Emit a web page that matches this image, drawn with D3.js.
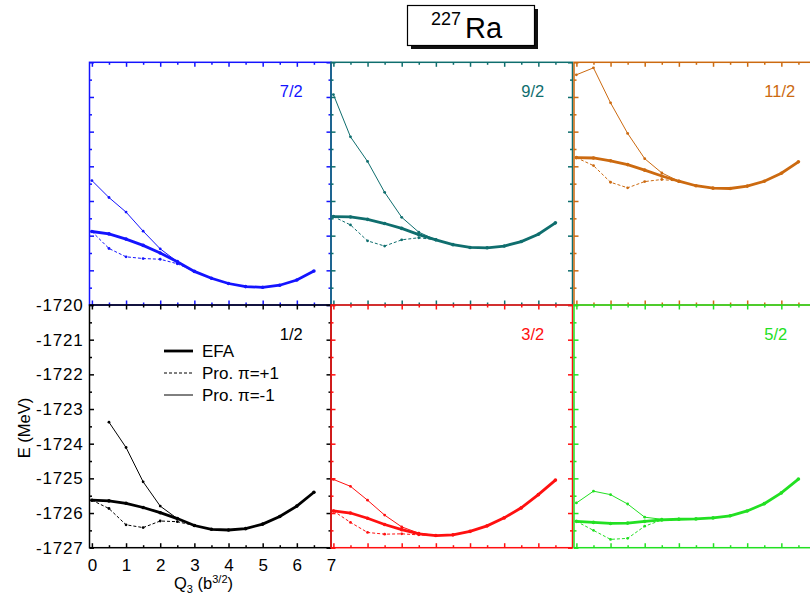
<!DOCTYPE html>
<html>
<head>
<meta charset="utf-8">
<script src="https://cdn.jsdelivr.net/npm/d3@7"></script>
<style>
  body { margin: 0; background: #fff; }
  svg { display: block; font-family: "Liberation Sans", Arial, sans-serif; }
</style>
</head>
<body>
<svg id="chart" width="810" height="600"></svg>
<script>
// Q3 grid (b^3/2)
var q3 = [0, 0.5, 1, 1.5, 2, 2.5, 3, 3.5, 4, 4.5, 5, 5.5, 6, 6.5];
var q3Pro = [0, 0.5, 1, 1.5, 2, 2.5, 3];

// energies in MeV
var efa72   = [-1724.88, -1724.95, -1725.10, -1725.28, -1725.50, -1725.75, -1726.03, -1726.23, -1726.38, -1726.47, -1726.49, -1726.43, -1726.28, -1726.02];
var plus72  = [-1724.88, -1725.37, -1725.61, -1725.66, -1725.68, -1725.81, -1726.03];
var minus72 = [-1723.41, -1723.90, -1724.32, -1724.87, -1725.38, -1725.75, -1726.03];

var efa92   = [-1724.45, -1724.46, -1724.53, -1724.65, -1724.79, -1724.97, -1725.12, -1725.26, -1725.34, -1725.35, -1725.30, -1725.17, -1724.96, -1724.63];
var plus92  = [-1724.45, -1724.69, -1725.15, -1725.30, -1725.12, -1725.06, -1725.12];
var minus92 = [-1720.93, -1722.15, -1722.86, -1723.75, -1724.47, -1724.90, -1725.12];

var efa112   = [-1722.75, -1722.76, -1722.84, -1722.95, -1723.11, -1723.28, -1723.43, -1723.56, -1723.63, -1723.64, -1723.57, -1723.43, -1723.20, -1722.87];
var plus112  = [-1722.75, -1722.98, -1723.46, -1723.62, -1723.44, -1723.38, -1723.43];
var minus112 = [-1720.36, -1720.16, -1721.17, -1722.05, -1722.78, -1723.19, -1723.43];

var efa12   = [-1725.63, -1725.65, -1725.72, -1725.84, -1725.99, -1726.16, -1726.36, -1726.47, -1726.49, -1726.45, -1726.32, -1726.10, -1725.80, -1725.40];
var plus12  = [-1725.63, -1725.87, -1726.34, -1726.42, -1726.23, -1726.25, -1726.36];
var minus12 = [null, -1723.38, -1724.11, -1725.10, -1725.80, -1726.16, -1726.36];

var efa32   = [-1725.94, -1726.00, -1726.15, -1726.33, -1726.48, -1726.60, -1726.65, -1726.63, -1726.53, -1726.37, -1726.14, -1725.85, -1725.47, -1725.05];
var plus32  = [-1725.94, -1726.27, -1726.56, -1726.61, -1726.60, -1726.63, -1726.65];
var minus32 = [-1725.03, -1725.23, -1725.63, -1726.06, -1726.40, -1726.58, -1726.65];

var efa52   = [-1726.24, -1726.27, -1726.30, -1726.29, -1726.24, -1726.20, -1726.18, -1726.17, -1726.14, -1726.08, -1725.94, -1725.73, -1725.42, -1725.02];
var plus52  = [-1726.24, -1726.50, -1726.76, -1726.73, -1726.38, -1726.20, -1726.18];
var minus52 = [-1725.71, -1725.37, -1725.47, -1725.74, -1726.12, -1726.18, -1726.18];

var xTicksMajor = [0, 1, 2, 3, 4, 5, 6, 7];
var yTicksMajor = [-1727, -1726, -1725, -1724, -1723, -1722, -1721, -1720];
var legendLabels = ["EFA", "Pro. \u03c0=+1", "Pro. \u03c0=-1"];

var panels = [
    { k: "7/2",  color: "#1414ff", efa: efa72,  plus: plus72,  minus: minus72,  col: 0, row: 0 },
    { k: "9/2",  color: "#0f6e6e", efa: efa92,  plus: plus92,  minus: minus92,  col: 1, row: 0 },
    { k: "11/2", color: "#cc6a10", efa: efa112, plus: plus112, minus: minus112, col: 2, row: 0 },
    { k: "1/2",  color: "#000000", efa: efa12,  plus: plus12,  minus: minus12,  col: 0, row: 1 },
    { k: "3/2",  color: "#ff1010", efa: efa32,  plus: plus32,  minus: minus32,  col: 1, row: 1 },
    { k: "5/2",  color: "#22e022", efa: efa52,  plus: plus52,  minus: minus52,  col: 2, row: 1 }
];

var svg = d3.select("#chart");
var colLeft = [89.5, 331, 574];
var rowTop = [62.3, 305];
var pw = 241.5, ph = 242.7;

function zip(xs, ys) {
    return xs.map(function (x, i) { return [x, ys[i]]; });
}

panels.forEach(function (p) {
    var x0 = colLeft[p.col], y0 = rowTop[p.row];
    var x = d3.scaleLinear().domain([-0.07, 7]).range([x0, x0 + pw]);
    var y = d3.scaleLinear().domain([-1727, -1720]).range([y0 + ph, y0]);
    var g = svg.append("g").attr("class", "panel");

    // frame
    g.append("rect")
        .attr("x", x0).attr("y", y0).attr("width", pw).attr("height", ph)
        .attr("fill", "none").attr("stroke", p.color).attr("stroke-width", 1.5);

    // inward ticks on all four sides: major every 1, minor every 0.5
    var xMinor = d3.range(0.5, 7, 1), yMinor = d3.range(-1726.5, -1720, 1);
    var axes = [
        [function () { return d3.axisBottom(x); }, "translate(0," + (y0 + ph) + ")", xTicksMajor.slice(0, 7), xMinor],
        [function () { return d3.axisTop(x); }, "translate(0," + y0 + ")", xTicksMajor.slice(0, 7), xMinor],
        [function () { return d3.axisLeft(y); }, "translate(" + x0 + ",0)", yTicksMajor, yMinor],
        [function () { return d3.axisRight(y); }, "translate(" + (x0 + pw) + ",0)", yTicksMajor, yMinor]
    ];
    axes.forEach(function (a) {
        [[a[2], 4.5], [a[3], 2.5]].forEach(function (set) {
            var ax = g.append("g").attr("transform", a[1])
                .call(a[0]().tickValues(set[0]).tickSize(-set[1]).tickFormat(""));
            ax.select(".domain").remove();
            ax.selectAll("line").attr("stroke", p.color).attr("stroke-width", 1.5);
        });
    });

    var line = d3.line()
        .defined(function (d) { return d[1] != null; })
        .x(function (d) { return x(d[0]); })
        .y(function (d) { return y(d[1]); });

    var series = [
        { pts: zip(q3Pro, p.plus), w: 1, dash: "3,2", r: 1.4 },
        { pts: zip(q3Pro, p.minus), w: 1, dash: null, r: 1.4 },
        { pts: zip(q3, p.efa), w: 2.8, dash: null, r: 1.8 }
    ];
    series.forEach(function (s) {
        g.append("path")
            .attr("d", line(s.pts))
            .attr("fill", "none")
            .attr("stroke", p.color)
            .attr("stroke-width", s.w)
            .attr("stroke-dasharray", s.dash);
        g.selectAll(null)
            .data(s.pts.filter(function (d) { return d[1] != null; }))
            .enter().append("circle")
            .attr("cx", function (d) { return x(d[0]); })
            .attr("cy", function (d) { return y(d[1]); })
            .attr("r", s.r)
            .attr("fill", p.color);
    });

    // K label
    g.append("text")
        .attr("x", x(5.5)).attr("y", y(-1721))
        .attr("fill", p.color)
        .style("font-size", "16.5px")
        .text(p.k);

    // labelled axes only on the bottom-left panel
    if (p.col === 0 && p.row === 1) {
        var bx = g.append("g").attr("transform", "translate(0," + (y0 + ph) + ")")
            .call(d3.axisBottom(x).tickValues(xTicksMajor).tickSize(0).tickPadding(11).tickFormat(String));
        bx.select(".domain").remove();
        bx.selectAll("text").attr("fill", "#000").style("font-size", "17px").attr("font-family", null);

        var ly = g.append("g").attr("transform", "translate(" + x0 + ",0)")
            .call(d3.axisLeft(y).tickValues(yTicksMajor).tickSize(0).tickPadding(6).tickFormat(String));
        ly.select(".domain").remove();
        ly.selectAll("text").attr("fill", "#000").style("font-size", "17px")
            .style("letter-spacing", "0.8px").attr("font-family", null);

        // legend
        var styles = [{ w: 2.8, dash: null }, { w: 1, dash: "3,2" }, { w: 1, dash: null }];
        var lg = g.append("g");
        legendLabels.forEach(function (lab, i) {
            var ly0 = 351 + i * 22;
            lg.append("line")
                .attr("x1", 164).attr("x2", 193).attr("y1", ly0).attr("y2", ly0)
                .attr("stroke", "#000").attr("stroke-width", styles[i].w)
                .attr("stroke-dasharray", styles[i].dash);
            lg.append("text")
                .attr("x", 202).attr("y", ly0 + 6)
                .style("font-size", "17px")
                .text(lab);
        });
    }
});

// axis titles
var xt = svg.append("text")
    .attr("x", 174).attr("y", 589)
    .style("font-size", "16.5px");
xt.append("tspan").text("Q");
xt.append("tspan").attr("dy", 4).style("font-size", "11px").text("3");
xt.append("tspan").attr("dy", -4).text(" (b");
xt.append("tspan").attr("dy", -6).style("font-size", "11px").text("3/2");
xt.append("tspan").attr("dy", 6).text(")");

svg.append("text")
    .attr("transform", "translate(30,428) rotate(-90)")
    .attr("text-anchor", "middle")
    .style("font-size", "16.5px")
    .text("E (MeV)");

// title box with drop shadow
svg.append("rect").attr("x", 411).attr("y", 9).attr("width", 127).attr("height", 40).attr("fill", "#111");
svg.append("rect").attr("x", 407.5).attr("y", 5.5).attr("width", 127).attr("height", 40)
    .attr("fill", "#fff").attr("stroke", "#000").attr("stroke-width", 1.2);
svg.append("text").attr("x", 431).attr("y", 25).style("font-size", "18px").text("227");
svg.append("text").attr("x", 465).attr("y", 38).style("font-size", "29px").text("Ra");
</script>
</body>
</html>
